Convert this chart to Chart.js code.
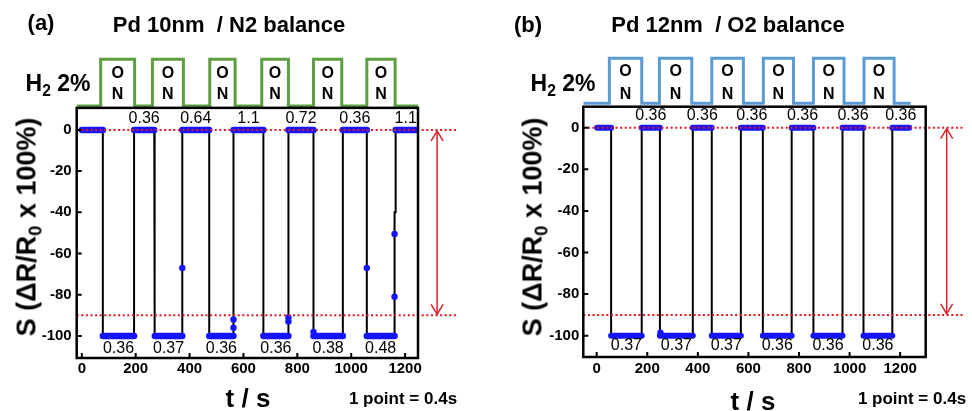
<!DOCTYPE html>
<html><head><meta charset="utf-8">
<script src="https://cdn.jsdelivr.net/npm/chart.js@4.4.0/dist/chart.umd.min.js"></script>
<style>
html,body{margin:0;padding:0;background:#fff;}
#wrap{position:relative;width:972px;height:411px;overflow:hidden;font-family:'Liberation Sans',Arial,sans-serif;color:#000;}
.pane{position:absolute;top:0;width:486px;height:411px;}
.t{position:absolute;transform:translate(-50%,-50%);font-weight:bold;white-space:pre;line-height:1;}
.sub{font-size:0.68em;position:relative;top:0.3em;}
.yt{transform:translate(-50%,-50%) rotate(-90deg);}
</style></head><body>
<div id="wrap">
  <div class="pane" style="left:0"><canvas id="ca" width="486" height="411"></canvas></div>
  <div class="pane" style="left:486px"><canvas id="cb" width="486" height="411"></canvas></div>

  <div class="t" style="left:41px;top:23px;font-size:22px">(a)</div>
  <div class="t" style="left:229px;top:25px;font-size:22px">Pd 10nm  / N2 balance</div>
  <div class="t" style="left:58px;top:83px;font-size:23px">H<span class="sub">2</span> 2%</div>
  <div class="t yt" style="left:27px;top:227px;font-size:27px">S (ΔR/R<span class="sub">0</span> x 100%)</div>
  <div class="t" style="left:248px;top:398px;font-size:26px">t / s</div>
  <div class="t" style="left:403px;top:398px;font-size:17px">1 point = 0.4s</div>

  <div class="t" style="left:528px;top:25px;font-size:22px">(b)</div>
  <div class="t" style="left:728px;top:25px;font-size:22px">Pd 12nm  / O2 balance</div>
  <div class="t" style="left:563px;top:83px;font-size:23px">H<span class="sub">2</span> 2%</div>
  <div class="t yt" style="left:533px;top:227px;font-size:27px">S (ΔR/R<span class="sub">0</span> x 100%)</div>
  <div class="t" style="left:753px;top:401px;font-size:26px">t / s</div>
  <div class="t" style="left:912px;top:398px;font-size:17px">1 point = 0.4s</div>
</div>
<script>
// ---------- shared ticks ----------
const xTicks = [0, 200, 400, 600, 800, 1000, 1200];
const yTicks = [0, -20, -40, -60, -80, -100];
const refLevels = [0, -90];

// ---------- panel (a): Pd 10nm / N2 balance ----------
const aTime   = [0,78,78,194,194,269,269,271,271,373,373,473,473,563,563,674,674,767,767,860,860,969,969,1058,1058,1161,1161,1165,1165,1240];
const aSignal = [0,0,-100,-100,0,0,-50,-50,-100,-100,0,0,-100,-100,0,0,-100,-100,0,0,-100,-100,0,0,-100,-100,-40,-40,0,0];
const aTopStart = [0,194,373,563,767,969,1165];
const aTopEnd   = [78,269,473,674,860,1058,1240];
const aBotStart = [78,271,473,674,860,1058];
const aBotEnd   = [194,373,563,767,969,1161];
const aTopLabel = ['', '0.36', '0.64', '1.1', '0.72', '0.36', '1.1'];
const aBotLabel = ['0.36', '0.37', '0.36', '0.36', '0.38', '0.48'];
const aDotTime   = [373, 563, 563, 767, 767, 860, 1058, 1161, 1161];
const aDotSignal = [-67, -92, -96, -91, -93, -98, -67, -81, -50.5];
const aH2Time  = [-19,70,196,262,377,475,569,668,767,860,965,1058,1163,1248];
const aH2State = [0,1,0,1,0,1,0,1,0,1,0,1,0,0];

// ---------- panel (b): Pd 12nm / O2 balance ----------
const bTime   = [2,57,57,178,178,250,250,380,380,455,455,570,570,657,657,771,771,857,857,972,972,1055,1055,1169,1169,1236];
const bSignal = [0,0,-100,-100,0,0,-100,-100,0,0,-100,-100,0,0,-100,-100,0,0,-100,-100,0,0,-100,-100,0,0];
const bTopStart = [2,178,380,570,771,972,1169];
const bTopEnd   = [57,250,455,657,857,1055,1236];
const bBotStart = [57,250,455,657,857,1055];
const bBotEnd   = [178,380,570,771,972,1169];
const bTopLabel = ['', '0.36', '0.36', '0.36', '0.36', '0.36', '0.36'];
const bBotLabel = ['0.37', '0.37', '0.37', '0.36', '0.36', '0.36'];
const bDotTime   = [252];
const bDotSignal = [-98.5];
const bH2Time  = [-53,50,178,248,376,455,580,659,778,857,978,1057,1176,1242];
const bH2State = [0,1,0,1,0,1,0,1,0,1,0,1,0,0];

const FONT = "'Liberation Sans', Arial, sans-serif";
const RED = '#e3161d';
const BLUE = '#1414ff';

function pts(xs, ys) { return xs.map((x, i) => ({x: x, y: ys[i]})); }
function plateaus(starts, ends, level) {
  const out = [];
  starts.forEach((s, i) => { out.push({x: s, y: level}, {x: ends[i], y: level}, {x: ends[i], y: null}); });
  return out;
}

function makePanel(id, d, g) {
  const deco = {
    id: 'deco' + id,
    afterDatasetsDraw(chart) {
      const ctx = chart.ctx, xs = chart.scales.x, ys = chart.scales.y, yh = chart.scales.yH;
      const ca = chart.chartArea;
      ctx.save();
      // reference dotted lines
      ctx.strokeStyle = RED; ctx.lineWidth = 2; ctx.setLineDash([2, 2.6]);
      refLevels.forEach(v => {
        const py = ys.getPixelForValue(v);
        ctx.beginPath(); ctx.moveTo(ca.left, py); ctx.lineTo(xs.getPixelForValue(g.refEnd), py); ctx.stroke();
      });
      ctx.setLineDash([]);
      // double arrow
      const ax = xs.getPixelForValue(g.arrowX);
      const y0 = ys.getPixelForValue(refLevels[0]), y1 = ys.getPixelForValue(refLevels[1]);
      ctx.strokeStyle = '#d8232a'; ctx.lineWidth = 1.5;
      ctx.beginPath(); ctx.moveTo(ax, y0 + 1); ctx.lineTo(ax, y1 - 1); ctx.stroke();
      ctx.beginPath();
      ctx.moveTo(ax - 6, y0 + 11); ctx.lineTo(ax, y0 + 1); ctx.lineTo(ax + 6, y0 + 11);
      ctx.moveTo(ax - 6, y1 - 11); ctx.lineTo(ax, y1 - 1); ctx.lineTo(ax + 6, y1 - 11);
      ctx.stroke();
      // box
      const top = ys.getPixelForValue(g.boxTop);
      ctx.strokeStyle = '#000'; ctx.lineWidth = 2.5;
      ctx.strokeRect(ca.left, top, ca.right - ca.left, ca.bottom - top);
      // inward ticks
      ctx.lineWidth = 2;
      ctx.beginPath();
      yTicks.forEach(v => { const py = ys.getPixelForValue(v); ctx.moveTo(ca.left, py); ctx.lineTo(ca.left + 5, py); });
      xTicks.forEach(v => { const px = xs.getPixelForValue(v); ctx.moveTo(px, ca.bottom); ctx.lineTo(px, ca.bottom - 5); });
      ctx.stroke();
      // plateau labels
      ctx.fillStyle = '#000'; ctx.font = '16px ' + FONT; ctx.textAlign = 'center'; ctx.textBaseline = 'middle';
      d.topLabel.forEach((t, i) => {
        if (!t) return;
        ctx.fillText(t, xs.getPixelForValue((d.topStart[i] + d.topEnd[i]) / 2), ys.getPixelForValue(g.topLabelY));
      });
      d.botLabel.forEach((t, i) => {
        ctx.fillText(t, xs.getPixelForValue((d.botStart[i] + d.botEnd[i]) / 2), ys.getPixelForValue(g.botLabelY));
      });
      // ON labels inside H2 pulses
      ctx.font = 'bold 16px ' + FONT;
      for (let i = 0; i < d.h2t.length - 1; i++) {
        if (d.h2s[i + 1] === 0 && d.h2s[i] === 1) {
          const cx = xs.getPixelForValue((d.h2t[i] + d.h2t[i + 1]) / 2);
          ctx.fillText('O', cx, yh.getPixelForValue(g.onY[0]));
          ctx.fillText('N', cx, yh.getPixelForValue(g.onY[1]));
        }
      }
      ctx.restore();
    }
  };
  const tickFont = {family: FONT, size: 15, weight: 'bold'};
  return new Chart(document.getElementById(id), {
    type: 'line',
    data: {
      datasets: [
        {data: pts(d.dotT, d.dotS), showLine: false, pointRadius: 3.2, pointBackgroundColor: BLUE, pointBorderWidth: 0, order: 1},
        {data: plateaus(d.topStart, d.topEnd, 0).concat(plateaus(d.botStart, d.botEnd, -100)), borderColor: BLUE, borderWidth: g.barW, borderCapStyle: 'round', pointRadius: 0, spanGaps: false, order: 2},
        {data: pts(d.t, d.s), borderColor: '#000', borderWidth: 2, pointRadius: 0, order: 3},
        {data: pts(d.h2t, d.h2s), yAxisID: 'yH', stepped: 'before', borderColor: g.h2Color, borderWidth: 3, borderJoinStyle: 'miter', pointRadius: 0, order: 4}
      ]
    },
    options: {
      responsive: false, animation: false, parsing: true,
      layout: {padding: {left: 0, right: g.padRight, top: g.padTop, bottom: 0}},
      plugins: {legend: {display: false}, tooltip: {enabled: false}, title: {display: false}},
      scales: {
        x: {type: 'linear', min: g.xmin, max: g.xmax,
          afterBuildTicks: s => { s.ticks = xTicks.map(v => ({value: v})); },
          afterFit: s => { s.height = g.xAxisH; },
          grid: {display: false, drawTicks: false}, border: {display: false},
          ticks: {font: tickFont, color: '#000', padding: g.xPad, maxRotation: 0, autoSkip: false, callback: v => String(v)}},
        y: {type: 'linear', min: g.ymin, max: g.ymax,
          afterBuildTicks: s => { s.ticks = yTicks.map(v => ({value: v})); },
          afterFit: s => { s.width = g.yAxisW; },
          grid: {display: false, drawTicks: false}, border: {display: false},
          ticks: {font: tickFont, color: '#000', padding: g.yPad, autoSkip: false, callback: v => String(v)}},
        yH: {type: 'linear', display: false, position: 'right', min: g.hmin, max: g.hmax}
      }
    },
    plugins: [deco]
  });
}

makePanel('ca',
  {t: aTime, s: aSignal, topStart: aTopStart, topEnd: aTopEnd, botStart: aBotStart, botEnd: aBotEnd,
   topLabel: aTopLabel, botLabel: aBotLabel, dotT: aDotTime, dotS: aDotSignal, h2t: aH2Time, h2s: aH2State},
  {xmin: -19, xmax: 1248, ymin: -110.7, ymax: 40, hmin: -5.396, hmax: 1.2527,
   padRight: 68, padTop: 47.5, xAxisH: 53, yAxisW: 76.7, xPad: 2, yPad: 5,
   boxTop: 10.7, refEnd: 1389, arrowX: 1319, topLabelY: 5.3, botLabelY: -106.2,
   onY: [0.69, 0.24], barW: 6.5, h2Color: '#5c9e41'});

makePanel('cb',
  {t: bTime, s: bSignal, topStart: bTopStart, topEnd: bTopEnd, botStart: bBotStart, botEnd: bBotEnd,
   topLabel: bTopLabel, botLabel: bBotLabel, dotT: bDotTime, dotS: bDotSignal, h2t: bH2Time, h2s: bH2State},
  {xmin: -53, xmax: 1301, ymin: -110.24, ymax: 40, hmin: -5.638, hmax: 1.3067,
   padRight: 46.3, padTop: 44.5, xAxisH: 54, yAxisW: 97.3, xPad: 3, yPad: 4,
   boxTop: 10.1, refEnd: 1457, arrowX: 1384, topLabelY: 5.8, botLabelY: -104.8,
   onY: [0.70, 0.20], barW: 6, h2Color: '#5b9bd5'});
</script>
</body></html>
